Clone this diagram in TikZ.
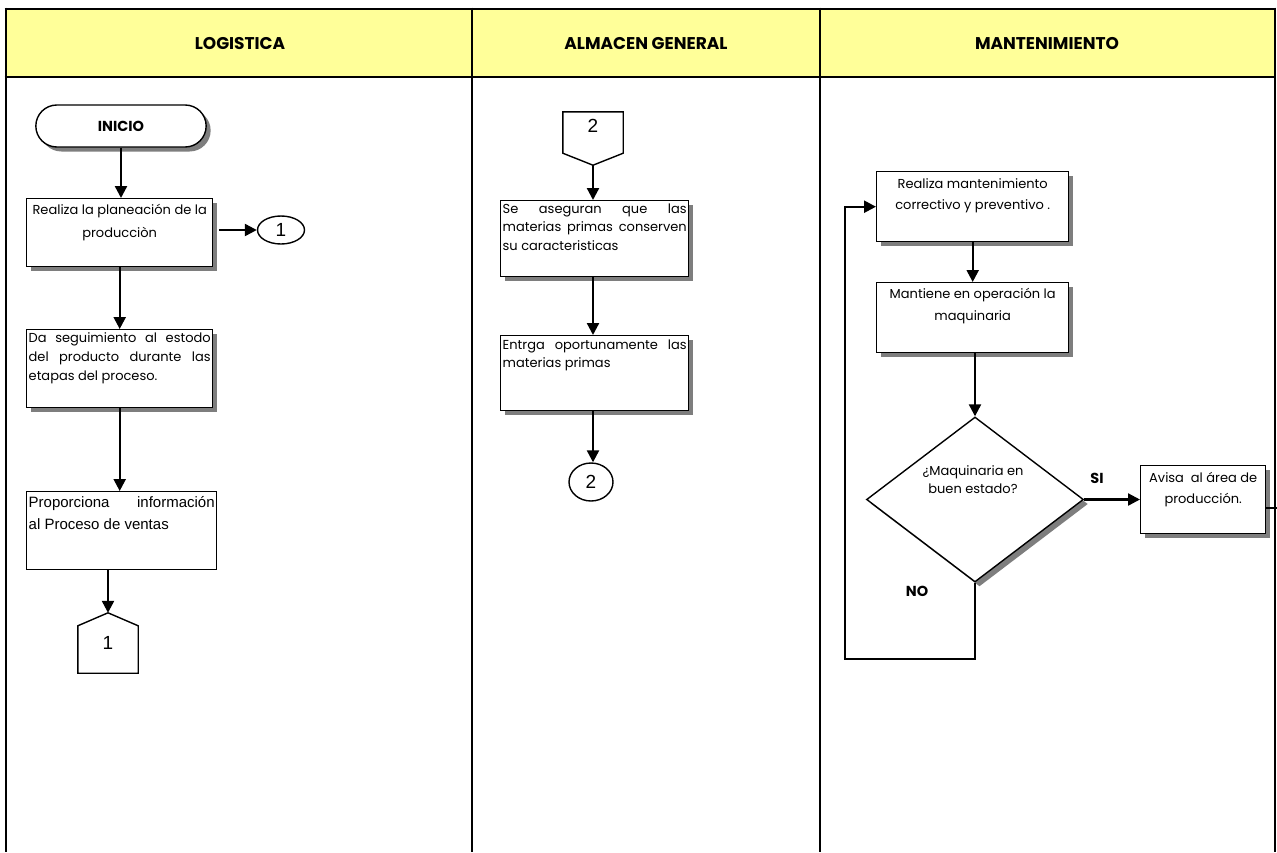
\documentclass[tikz,border=0pt]{standalone}
\usepackage{fontspec}
\setmainfont{Poppins}
\newfontfamily\arialfont{Liberation Sans}
\usetikzlibrary{arrows.meta,shapes.geometric,shapes.misc,shadows,calc}

\definecolor{lanehead}{HTML}{FFFF99}
\definecolor{shadegray}{HTML}{7E7E7E}

% process box body: width, height, top padding, baselineskip, text
\newcommand{\lanebox}[5]{\parbox[c][#2pt][t]{\dimexpr#1pt-4pt\relax}{\fontsize{13}{#4}\selectfont\vspace*{#3pt}#5}}
% a line stretched to the full box width
\newcommand{\jl}[1]{\makebox[\linewidth][s]{#1}}

\begin{document}
\begin{tikzpicture}[x=1pt,y=-1pt,
  castshadow/.style={drop shadow={shadow xshift=4.5pt,shadow yshift=-4.5pt,fill=shadegray,opacity=1}},
  procbox/.style={draw,line width=1.4pt,fill=white,inner xsep=2pt,inner ysep=0pt,anchor=north west},
  flow/.style={line width=2.3pt,-{Triangle[length=12pt,width=12pt]}},
  plainline/.style={line width=2pt},
  lane/.style={line width=2.8pt},
  hdr/.style={font=\bfseries\fontsize{17}{20}\selectfont},
  lbl/.style={font=\bfseries\fontsize{14.5}{17}\selectfont},
  digit/.style={font=\arialfont\fontsize{19}{22}\selectfont},
  outline/.style={line width=1.4pt},
]
\useasboundingbox (0,0) rectangle (1277,852);

% ---- lanes and header ----
\fill[lanehead] (6,9) rectangle (1275,77);
\draw[lane] (4.6,9) -- (1276.4,9);
\draw[lane] (4.6,77) -- (1276.4,77);
\draw[lane] (6,7.6) -- (6,852);
\draw[lane] (472,7.6) -- (472,852);
\draw[lane] (820,7.6) -- (820,852);
\draw[lane] (1275,7.6) -- (1275,852);
\node[hdr] (h1) at (240,44) {LOGISTICA};
\node[hdr] (h2) at (646,44) {ALMACEN GENERAL};
\node[hdr] (h3) at (1047,44) {MANTENIMIENTO};

% ---- LOGISTICA ----
\node[draw,rounded rectangle,outline,fill=white,castshadow,minimum width=177pt,minimum height=42pt,lbl] (inicio) at (121,126) {INICIO};
\node[procbox,castshadow] (b1) at (26,198) {\lanebox{186}{68}{6}{23}{\centering Realiza la planeación de la\\producciòn}};
\node[ellipse,draw,outline,minimum width=47pt,minimum height=28pt,inner sep=0pt,digit] (c1) at (281,230) {1};
\node[procbox,castshadow] (b2) at (26,329) {\lanebox{186}{78}{3}{19}{\jl{Da seguimiento al estodo}\\\jl{del producto durante las}\\etapas del proceso.}};
\node[procbox] (b3) at (26,491) {\lanebox{190}{78}{5}{22}{\arialfont\fontsize{15}{22}\selectfont\jl{Proporciona información}\\al Proceso de ventas}};
\node[minimum width=60pt,minimum height=60pt,inner sep=0pt,digit] (p1) at (108,643) {1};
\draw[outline] (p1.south west) -- (p1.south east) -- ($(p1.north east)+(0,13)$) -- (p1.north) -- ($(p1.north west)+(0,13)$) -- cycle;

\draw[flow] (inicio.south) -- (inicio.south |- b1.north);
\draw[flow] ([xshift=6pt]b1.east |- c1.west) -- (c1.west);
\draw[flow] (b1.south) -- (b1.south |- b2.north);
\draw[flow] (b2.south) -- (b2.south |- b3.north);
\draw[flow] (p1.north |- b3.south) -- (p1.north);

% ---- ALMACEN GENERAL ----
\node[minimum width=60pt,minimum height=53pt,inner sep=0pt] (p2) at (593,138.5) {};
\draw[outline] (p2.north west) -- (p2.north east) -- ($(p2.south east)+(0,-12)$) -- (p2.south) -- ($(p2.south west)+(0,-12)$) -- cycle;
\node[digit] (p2t) at (593,126) {2};
\node[procbox,castshadow] (a1) at (500,200) {\lanebox{188}{76}{3}{18.5}{\jl{Se aseguran que las}\\\jl{materias primas conserven}\\su caracteristicas}};
\node[procbox,castshadow] (a2) at (500,335) {\lanebox{188}{75}{4.5}{18}{\jl{Entrga oportunamente las}\\materias primas}};
\node[ellipse,draw,outline,minimum width=44pt,minimum height=38pt,inner sep=0pt,digit] (c2) at (591,482) {2};

\draw[flow] (p2.south) -- (p2.south |- a1.north);
\draw[flow] (p2.south |- a1.south) -- (p2.south |- a2.north);
\draw[flow] (p2.south |- a2.south) -- (p2.south |- c2.north);

% ---- MANTENIMIENTO ----
\node[procbox,castshadow] (m1) at (876,171) {\lanebox{192}{70}{6.5}{21}{\centering Realiza mantenimiento\\correctivo y preventivo .}};
\node[procbox,castshadow] (m2) at (876,282) {\lanebox{192}{70}{5.5}{22}{\centering Mantiene en operación la\\maquinaria}};
\node[diamond,draw,outline,fill=white,castshadow,minimum width=217pt,minimum height=165pt,inner sep=0pt] (d) at (975,499.5) {};
\node[align=center,font=\fontsize{13}{18}\selectfont] (dq) at (973,480) {¿Maquinaria en\\buen estado?};
\node[procbox,castshadow] (av) at (1140,465) {\lanebox{125}{68}{6.5}{21}{\centering Avisa\ \ al área de\\producción.}};
\node[lbl] (si) at (1097,478) {SI};
\node[lbl] (no) at (917,591) {NO};
\coordinate (loopbl) at (845,659);
\coordinate (edge) at (1277,508);

\draw[flow] (m1.south) -- (m2.north);
\draw[flow] (d.north |- m2.south) -- (d.north);
\draw[flow] (d.east) -- (av.west |- d.east);
\draw[flow] (d.south) |- (loopbl) |- (m1.west);
\draw[plainline] (av.east |- edge) -- (edge);
\end{tikzpicture}
\end{document}
